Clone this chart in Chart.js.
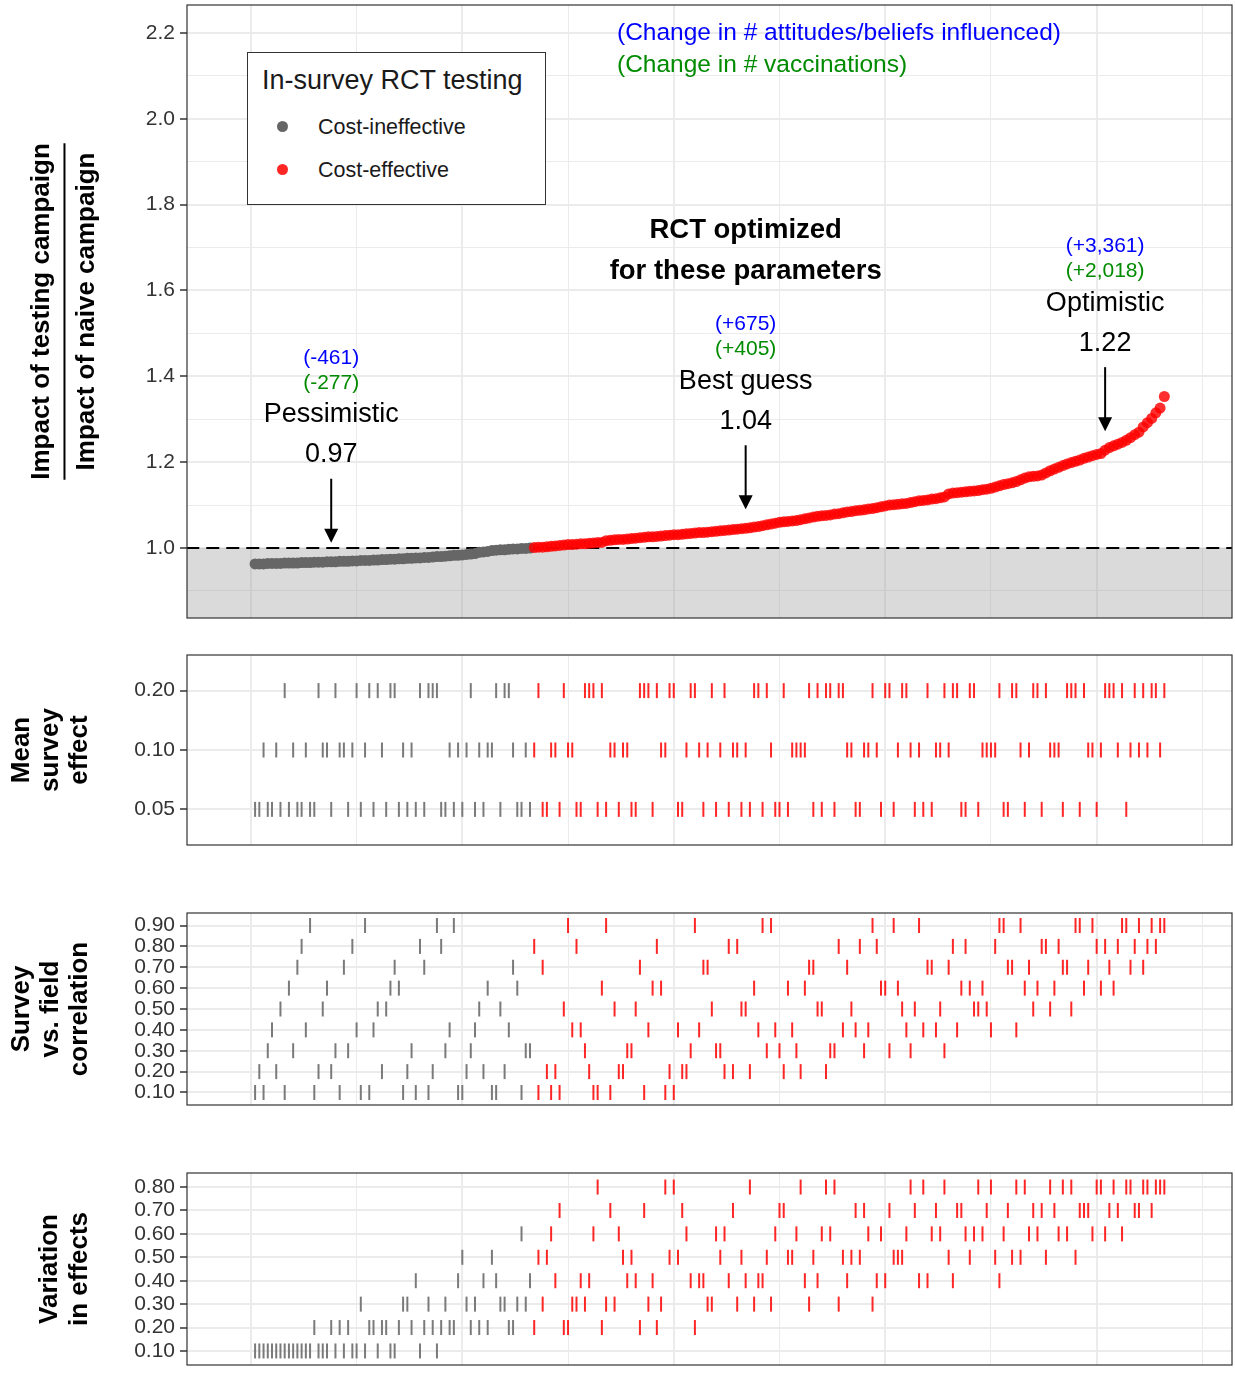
<!DOCTYPE html>
<html>
<head>
<meta charset="utf-8">
<script src="https://cdn.jsdelivr.net/npm/chart.js@4.4.1/dist/chart.umd.min.js"></script>
<style>
  body { margin: 0; background: #fff; width: 1235px; height: 1373px; position: relative; overflow: hidden;
         font-family: "Liberation Sans", Arial, Helvetica, sans-serif; }
  canvas { position: absolute; left: 0; }
  #legend { position: absolute; left: 247px; top: 52px; width: 297px; height: 151px; border: 1px solid #333; background: #fff; }
  #legend .title { position: absolute; left: 14px; top: 12px; font-size: 27px; color: #1a1a1a; white-space: nowrap; }
  #legend .item { position: absolute; left: 70px; font-size: 21.5px; color: #1a1a1a; white-space: nowrap; line-height: 24px; }
  #legend .dot { position: absolute; left: 29px; width: 11px; height: 11px; border-radius: 50%; }
</style>
</head>
<body>
<canvas id="impact" width="1235" height="640" style="top:0"></canvas>
<canvas id="meanEffect" width="1235" height="240" style="top:640px"></canvas>
<canvas id="correlation" width="1235" height="260" style="top:880px"></canvas>
<canvas id="variation" width="1235" height="233" style="top:1140px"></canvas>
<div id="legend">
  <div class="title">In-survey RCT testing</div>
  <div class="dot" style="top:68px;background:#666"></div>
  <div class="item" style="top:62px">Cost-ineffective</div>
  <div class="dot" style="top:111px;background:rgba(255,0,0,0.85)"></div>
  <div class="item" style="top:105px">Cost-effective</div>
</div>
<script>
// ratio of testing-campaign impact to naive-campaign impact, sorted, one value per parameter combination
const impactRatio = [
  0.963, 0.963, 0.963, 0.964, 0.964, 0.964, 0.964, 0.965, 0.965, 0.965,
  0.965, 0.966, 0.966, 0.966, 0.967, 0.967, 0.967, 0.968, 0.968, 0.968,
  0.969, 0.969, 0.969, 0.970, 0.970, 0.971, 0.971, 0.971, 0.972, 0.972,
  0.973, 0.973, 0.974, 0.974, 0.975, 0.975, 0.976, 0.976, 0.977, 0.977,
  0.978, 0.978, 0.979, 0.980, 0.980, 0.981, 0.982, 0.983, 0.983, 0.984,
  0.985, 0.986, 0.987, 0.990, 0.991, 0.992, 0.994, 0.995, 0.996, 0.996,
  0.997, 0.998, 0.998, 0.999, 0.999, 1.000, 1.001, 1.002, 1.002, 1.003,
  1.004, 1.005, 1.006, 1.007, 1.008, 1.008, 1.009, 1.010, 1.010, 1.011,
  1.012, 1.013, 1.013, 1.017, 1.018, 1.019, 1.020, 1.020, 1.021, 1.022,
  1.023, 1.024, 1.025, 1.026, 1.026, 1.027, 1.028, 1.029, 1.030, 1.031,
  1.031, 1.032, 1.033, 1.034, 1.035, 1.036, 1.036, 1.037, 1.038, 1.039,
  1.040, 1.041, 1.042, 1.043, 1.044, 1.045, 1.046, 1.047, 1.049, 1.050,
  1.052, 1.054, 1.056, 1.058, 1.060, 1.061, 1.062, 1.063, 1.064, 1.066,
  1.068, 1.070, 1.072, 1.074, 1.075, 1.076, 1.077, 1.079, 1.080, 1.082,
  1.084, 1.085, 1.087, 1.088, 1.089, 1.091, 1.092, 1.094, 1.096, 1.098,
  1.100, 1.101, 1.102, 1.103, 1.104, 1.106, 1.108, 1.110, 1.111, 1.112,
  1.114, 1.115, 1.117, 1.119, 1.126, 1.128, 1.129, 1.130, 1.131, 1.132,
  1.133, 1.134, 1.136, 1.137, 1.139, 1.142, 1.145, 1.148, 1.150, 1.152,
  1.155, 1.159, 1.163, 1.166, 1.167, 1.168, 1.170, 1.175, 1.180, 1.184,
  1.188, 1.192, 1.196, 1.199, 1.202, 1.205, 1.209, 1.212, 1.215, 1.218,
  1.220, 1.228, 1.234, 1.238, 1.242, 1.246, 1.251, 1.257, 1.264, 1.270,
  1.282, 1.292, 1.302, 1.315, 1.326, 1.353
];
const breakEvenRatio = 1.0;

// highlighted scenarios
const scenarioRanks = [19, 117, 202];
const scenarioNames = ["Pessimistic", "Best guess", "Optimistic"];
const scenarioRatioLabels = ["0.97", "1.04", "1.22"];
const attitudeChange = ["(-461)", "(+675)", "(+3,361)"];
const vaccinationChange = ["(-277)", "(+405)", "(+2,018)"];

// ranks (x position) of each parameter level
const meanEffectLevels = ["0.05", "0.10", "0.20"];
const meanEffectRanks = [
  [1,2,4,5,7,9,11,12,14,15,19,23,26,29,32,35,37,39,41,45,46,48,50,53,55,59,63,64,66,69,70,73,77,78,82,84,87,90,91,95,101,102,107,110,113,116,118,121,124,125,127,133,135,138,143,144,149,152,157,159,161,168,169,172,178,179,183,187,192,196,200,207],
  [3,6,10,13,17,18,21,22,24,27,31,36,38,47,49,51,54,56,57,62,65,67,71,72,75,76,85,86,88,89,97,98,103,106,108,111,114,115,117,123,128,129,130,131,141,142,145,146,148,153,156,158,162,163,165,173,174,175,176,182,184,189,190,191,198,199,201,205,208,210,212,215],
  [8,16,20,25,28,30,33,34,40,42,43,44,52,58,60,61,68,74,79,80,81,83,92,93,94,96,99,100,104,105,109,112,119,120,122,126,132,134,136,137,139,140,147,150,151,154,155,160,164,166,167,170,171,177,180,181,185,186,188,193,194,195,197,202,203,204,206,209,211,213,214,216]
];

const correlationLevels = ["0.10", "0.20", "0.30", "0.40", "0.50", "0.60", "0.70", "0.80", "0.90"];
const correlationRanks = [
  [1,3,8,15,21,26,28,36,39,42,49,50,57,58,64,68,71,73,81,82,85,93,98,100],
  [2,6,16,19,31,37,43,51,55,60,70,72,80,87,88,99,102,103,112,114,118,126,130,136],
  [4,10,20,23,38,46,52,65,66,79,89,90,104,110,111,122,125,129,137,138,145,151,156,164],
  [5,13,25,29,47,53,61,76,78,94,101,106,120,124,128,140,143,146,155,159,162,167,175,181],
  [7,17,30,32,54,59,74,86,91,109,116,117,134,135,142,154,157,163,171,172,174,185,189,194],
  [9,18,33,35,56,63,83,95,97,119,127,131,149,150,153,168,170,173,183,186,190,197,201,204],
  [11,22,34,41,62,69,92,107,108,132,133,141,160,161,165,179,180,184,192,193,198,203,208,211],
  [12,24,40,45,67,77,96,113,115,139,144,148,166,169,176,187,188,191,200,202,205,209,212,214],
  [14,27,44,48,75,84,105,121,123,147,152,158,177,178,182,195,196,199,206,207,210,213,215,216]
];

const variationLevels = ["0.10", "0.20", "0.30", "0.40", "0.50", "0.60", "0.70", "0.80"];
const variationRanks = [
  [1,2,3,4,5,6,7,8,9,10,11,12,13,14,16,17,18,20,22,24,25,27,30,33,34,40,44],
  [15,19,21,23,28,29,31,32,35,38,41,43,45,47,48,52,54,56,61,62,67,74,75,83,92,96,105],
  [26,36,37,42,46,51,53,59,60,63,65,69,76,77,79,84,86,94,97,108,109,115,119,123,132,139,147],
  [39,49,55,58,66,72,78,80,89,91,95,104,106,107,113,117,120,121,131,134,141,148,150,158,160,166,177],
  [50,57,68,70,88,90,99,101,111,116,122,127,128,133,140,142,144,152,153,154,165,170,176,180,182,188,195],
  [64,71,81,87,103,110,112,124,129,135,137,146,149,155,161,163,169,171,173,178,184,186,191,193,199,202,206],
  [73,85,93,102,114,125,126,143,145,151,157,162,167,168,174,179,185,187,190,196,197,198,203,205,209,210,213],
  [82,98,100,118,130,136,138,156,159,164,172,175,181,183,189,192,194,200,201,204,207,208,211,212,214,215,216]
];

// axis ticks
const rankGridMajor = [0, 50, 100, 150, 200];
const rankGridMinor = [25, 75, 125, 175, 225];
const ratioTicksMajor = [1.0, 1.2, 1.4, 1.6, 1.8, 2.0, 2.2];
const ratioTicksMinor = [0.9, 1.1, 1.3, 1.5, 1.7, 1.9, 2.1];

Chart.defaults.font.family = '"Liberation Sans", Arial, Helvetica, sans-serif';
Chart.defaults.color = '#333';

const GRID = '#EBEBEB';
const AXIS = '#333333';
const POINT_GRAY = '#666666';
const POINT_RED = 'rgba(255, 0, 0, 0.82)';
const RUG_GRAY = '#7a7a7a';
const RUG_RED = 'rgba(255, 0, 0, 0.85)';
const FONT = '"Liberation Sans", Arial, Helvetica, sans-serif';

const isEffective = rank => impactRatio[rank - 1] > breakEvenRatio;
const near = (list, v) => list.some(m => Math.abs(m - v) < 1e-6);

// keep the plot area exactly where the layout padding puts it
function noPadding(axis) {
  axis.paddingTop = 0;
  axis.paddingBottom = 0;
  axis.paddingLeft = 0;
  axis.paddingRight = 0;
}

function rankAxis() {
  return {
    type: 'linear',
    min: -15.1,
    max: 232,
    afterBuildTicks: axis => {
      axis.ticks = rankGridMajor.concat(rankGridMinor).sort((a, b) => a - b).map(v => ({ value: v }));
    },
    afterFit: axis => { axis.height = 0; noPadding(axis); },
    ticks: { display: false },
    grid: {
      color: GRID,
      lineWidth: c => (c.tick && near(rankGridMajor, c.tick.value)) ? 2 : 1,
      drawTicks: false
    },
    border: { display: false }
  };
}

const panelBorder = {
  id: 'panelBorder',
  afterDraw(chart) {
    const { ctx, chartArea: a } = chart;
    ctx.save();
    ctx.strokeStyle = AXIS;
    ctx.lineWidth = 1.2;
    ctx.strokeRect(a.left, a.top, a.right - a.left, a.bottom - a.top);
    ctx.restore();
  }
};

// fraction bar between the two lines of the top y-axis title
const fractionBar = {
  id: 'fractionBar',
  afterDraw(chart) {
    const y = chart.scales.y;
    const t = y.options.title;
    const size = t.font.size;
    const lh = size * t.font.lineHeight;
    const cx = y.left + t.padding.top + lh;
    const cy = (y.top + y.bottom) / 2;
    const ctx = chart.ctx;
    ctx.save();
    ctx.font = 'bold ' + size + 'px ' + FONT;
    const w = Math.max(...t.text.map(s => ctx.measureText(s).width));
    ctx.strokeStyle = '#000';
    ctx.lineWidth = 2;
    ctx.beginPath();
    ctx.moveTo(cx, cy - w / 2);
    ctx.lineTo(cx, cy + w / 2);
    ctx.stroke();
    ctx.restore();
  }
};

// scenario arrows and labels
const scenarioNotes = {
  id: 'scenarioNotes',
  afterDatasetsDraw(chart) {
    const { ctx, scales: { x, y }, chartArea } = chart;
    ctx.save();
    ctx.textAlign = 'center';
    ctx.textBaseline = 'middle';
    scenarioRanks.forEach((rank, i) => {
      const px = x.getPixelForValue(rank);
      const tip = y.getPixelForValue(impactRatio[rank - 1]) - 19;
      ctx.strokeStyle = '#000';
      ctx.fillStyle = '#000';
      ctx.lineWidth = 2;
      ctx.beginPath();
      ctx.moveTo(px, tip - 64);
      ctx.lineTo(px, tip - 8);
      ctx.stroke();
      ctx.beginPath();
      ctx.moveTo(px, tip);
      ctx.lineTo(px - 7, tip - 14);
      ctx.lineTo(px + 7, tip - 14);
      ctx.closePath();
      ctx.fill();
      ctx.font = '27px ' + FONT;
      ctx.fillText(scenarioRatioLabels[i], px, tip - 88);
      ctx.fillText(scenarioNames[i], px, tip - 128);
      ctx.font = '21px ' + FONT;
      ctx.fillStyle = '#008B00';
      ctx.fillText(vaccinationChange[i], px, tip - 160);
      ctx.fillStyle = '#0000FF';
      ctx.fillText(attitudeChange[i], px, tip - 185);
      if (i === 1) {
        ctx.fillStyle = '#000';
        ctx.font = 'bold 27.5px ' + FONT;
        ctx.fillText('RCT optimized', px, tip - 279);
        ctx.fillText('for these parameters', px, tip - 238);
      }
    });
    ctx.textAlign = 'left';
    ctx.font = '24.5px ' + FONT;
    ctx.fillStyle = '#0000FF';
    ctx.fillText('(Change in # attitudes/beliefs influenced)', chartArea.left + 430, chartArea.top + 28);
    ctx.fillStyle = '#008B00';
    ctx.fillText('(Change in # vaccinations)', chartArea.left + 430, chartArea.top + 60);
    ctx.restore();
  }
};

new Chart(document.getElementById('impact'), {
  type: 'scatter',
  data: {
    datasets: [
      {
        data: impactRatio.map((v, i) => ({ x: i + 1, y: v })),
        pointRadius: 5.5,
        pointBorderWidth: 0,
        pointBackgroundColor: c => (c.raw && c.raw.y > breakEvenRatio) ? POINT_RED : POINT_GRAY,
        order: 1
      },
      {
        type: 'line',
        data: [{ x: -20, y: breakEvenRatio }, { x: 240, y: breakEvenRatio }],
        fill: 'start',
        backgroundColor: 'rgba(150, 150, 150, 0.35)',
        borderColor: '#000',
        borderWidth: 2,
        borderDash: [13, 7],
        pointRadius: 0,
        order: 5
      }
    ]
  },
  options: {
    responsive: false,
    animation: false,
    events: [],
    layout: { autoPadding: false, padding: { left: 0, right: 3, top: 5, bottom: 22 } },
    plugins: { legend: { display: false }, tooltip: { enabled: false } },
    scales: {
      x: rankAxis(),
      y: {
        type: 'linear',
        min: 0.837,
        max: 2.265,
        afterBuildTicks: axis => {
          axis.ticks = ratioTicksMinor.concat(ratioTicksMajor).sort((a, b) => a - b).map(v => ({ value: v }));
        },
        afterFit: axis => { axis.width = 187; noPadding(axis); },
        ticks: {
          autoSkip: false,
          padding: 5,
          color: '#333',
          font: { size: 21 },
          callback: v => near(ratioTicksMajor, v) ? v.toFixed(1) : ''
        },
        grid: {
          color: GRID,
          lineWidth: c => (c.tick && near(ratioTicksMajor, c.tick.value)) ? 2 : 1,
          tickColor: c => (c.tick && near(ratioTicksMajor, c.tick.value)) ? AXIS : 'rgba(0,0,0,0)',
          tickLength: 7,
          tickWidth: 1.5
        },
        border: { display: false },
        title: {
          display: true,
          text: ['Impact of testing campaign', 'Impact of naive campaign'],
          color: '#000',
          font: { size: 26, weight: 'bold', lineHeight: 1.73 },
          padding: { top: 19.5, bottom: 0 }
        }
      }
    }
  },
  plugins: [scenarioNotes, fractionBar, panelBorder]
});

function rugChart(id, levels, ranks, title, titleTop, titleLineHeight, padTop, padBottom) {
  new Chart(document.getElementById(id), {
    type: 'scatter',
    data: {
      datasets: ranks.map((list, i) => ({
        data: list.map(r => ({ x: r, y: i + 1 })),
        pointStyle: 'line',
        rotation: 90,
        pointRadius: 7.5,
        pointBorderWidth: 2,
        pointBorderColor: c => (c.raw && isEffective(c.raw.x)) ? RUG_RED : RUG_GRAY
      }))
    },
    options: {
      responsive: false,
      animation: false,
      events: [],
      layout: { autoPadding: false, padding: { left: 0, right: 3, top: padTop, bottom: padBottom } },
      plugins: { legend: { display: false }, tooltip: { enabled: false } },
      scales: {
        x: rankAxis(),
        y: {
          type: 'linear',
          min: 0.4,
          max: levels.length + 0.6,
          afterBuildTicks: axis => { axis.ticks = levels.map((_, i) => ({ value: i + 1 })); },
          afterFit: axis => { axis.width = 187; noPadding(axis); },
          ticks: {
            autoSkip: false,
            padding: 5,
            color: '#333',
            font: { size: 21 },
            callback: v => levels[Math.round(v) - 1]
          },
          grid: { color: GRID, lineWidth: 2, tickColor: AXIS, tickLength: 7, tickWidth: 1.5 },
          border: { display: false },
          title: {
            display: true,
            text: title,
            color: '#000',
            font: { size: 26, weight: 'bold', lineHeight: titleLineHeight },
            padding: { top: titleTop, bottom: 0 }
          }
        }
      }
    },
    plugins: [panelBorder]
  });
}

rugChart('meanEffect', meanEffectLevels, meanEffectRanks, ['Mean', 'survey', 'effect'], 7.5, 1.12, 15, 35);
rugChart('correlation', correlationLevels, correlationRanks, ['Survey', 'vs. field', 'correlation'], 7.5, 1.12, 33, 35);
rugChart('variation', variationLevels, variationRanks, ['Variation', 'in effects'], 35, 1.15, 33, 8);
</script>
</body>
</html>
